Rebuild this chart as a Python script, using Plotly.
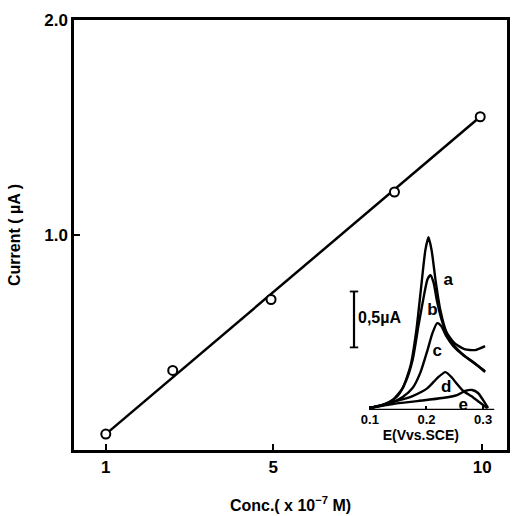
import plotly.graph_objects as go

# Main calibration data
conc = [1.0, 2.6, 4.95, 7.9, 9.95]
current = [0.074, 0.37, 0.70, 1.20, 1.55]
fit_x = [1.0, 9.95]
fit_y = [0.074, 1.55]
x_ticks = [1, 5, 10]
y_ticks = [1.0, 2.0]
y_ticktext = ["1.0", "2.0"]

# Inset voltammograms (E in V vs SCE, current in uA)
E_a = [0.100, 0.123, 0.140, 0.158, 0.172, 0.182, 0.191, 0.198, 0.2035, 0.209, 0.216, 0.2246, 0.235, 0.249, 0.267, 0.286, 0.3035]
I_a = [0.018, 0.045, 0.089, 0.196, 0.40, 0.71, 1.12, 1.43, 1.545, 1.43, 1.16, 0.89, 0.70, 0.60, 0.545, 0.536, 0.571]
E_b = [0.100, 0.1316, 0.149, 0.163, 0.1754, 0.186, 0.1965, 0.2018, 0.207, 0.2123, 0.219, 0.228, 0.2386, 0.2526, 0.272, 0.2895, 0.3035]
I_b = [0.018, 0.0625, 0.125, 0.25, 0.446, 0.76, 1.05, 1.17, 1.205, 1.143, 0.964, 0.786, 0.652, 0.554, 0.464, 0.40, 0.348]
E_c = [0.100, 0.1368, 0.158, 0.1754, 0.1895, 0.2018, 0.2105, 0.219, 0.2263, 0.235, 0.2474, 0.265, 0.2825, 0.3035]
I_c = [0.018, 0.0625, 0.116, 0.196, 0.339, 0.536, 0.6875, 0.777, 0.75, 0.66, 0.571, 0.49, 0.43, 0.34]
E_d = [0.100, 0.1404, 0.1754, 0.2018, 0.219, 0.2333, 0.2456, 0.251, 0.265, 0.279, 0.293, 0.307]
I_d = [0.018, 0.071, 0.125, 0.196, 0.286, 0.339, 0.286, 0.25, 0.17, 0.125, 0.071, 0.018]
E_e = [0.100, 0.1404, 0.184, 0.228, 0.254, 0.268, 0.2807, 0.291, 0.300, 0.3088]
I_e = [0.018, 0.054, 0.08, 0.107, 0.134, 0.17, 0.179, 0.152, 0.089, 0.018]
curve_labels = ["a", "b", "c", "d", "e"]
label_E = [0.2386, 0.2105, 0.219, 0.235, 0.265]
label_I = [1.16, 0.89, 0.52, 0.196, 0.036]
inset_ticks = [0.1, 0.2, 0.3]
inset_ticktext = ["0.1", "0.2", "0.3"]
inset_axis_E = [0.1, 0.32]
scale_E = [0.072, 0.072]
scale_I = [0.56, 1.06]

FONT = "Liberation Sans"
BOLD = dict(family=FONT, color="black", weight="bold")
fig = go.Figure()

fig.add_trace(go.Scatter(x=fit_x, y=fit_y, mode="lines",
                         line=dict(color="black", width=2.5), showlegend=False))
fig.add_trace(go.Scatter(x=conc, y=current, mode="markers",
                         marker=dict(symbol="circle", size=9, color="white",
                                     line=dict(color="black", width=2)),
                         showlegend=False))

for E, I in [(E_a, I_a), (E_b, I_b), (E_c, I_c), (E_d, I_d), (E_e, I_e)]:
    fig.add_trace(go.Scatter(x=E, y=I, mode="lines", xaxis="x2", yaxis="y2",
                             line=dict(color="black", width=2.4, shape="spline", smoothing=0.6),
                             showlegend=False, cliponaxis=False))

fig.add_trace(go.Scatter(x=label_E, y=label_I, mode="text", text=curve_labels,
                         xaxis="x2", yaxis="y2", cliponaxis=False,
                         textfont=dict(BOLD, size=17),
                         showlegend=False))

# scale bar
fig.add_trace(go.Scatter(x=scale_E, y=scale_I, mode="lines+markers", xaxis="x2", yaxis="y2",
                         line=dict(color="black", width=2.2),
                         marker=dict(symbol="line-ew", size=6, line=dict(color="black", width=1.8)),
                         cliponaxis=False, showlegend=False))

fig.add_annotation(x=0.076, y=0.83, xref="x2", yref="y2", text="0,5µA",
                   showarrow=False, xanchor="left", yanchor="middle",
                   font=dict(BOLD, size=16))

# inset baseline axis
fig.add_shape(type="line", xref="x2", yref="y2", x0=inset_axis_E[0], x1=inset_axis_E[1],
              y0=0, y1=0, line=dict(color="black", width=2.5))

fig.update_layout(
    width=514, height=516,
    margin=dict(l=74, r=4, t=20, b=66),
    paper_bgcolor="white", plot_bgcolor="white",
    font=dict(family=FONT, color="black"),
    xaxis=dict(range=[0.24, 10.59], tickvals=x_ticks, ticks="inside", ticklen=6,
               tickwidth=2, tickcolor="black", showline=True, linewidth=2.5,
               linecolor="black", mirror=True, showgrid=False, zeroline=False,
               tickfont=dict(BOLD, size=17),
               ticklabelstandoff=0,
               title=dict(text="Conc.( x 10<sup>−7</sup> M)", standoff=24,
                          font=dict(BOLD, size=16))),
    yaxis=dict(range=[0, 2.0], tickvals=y_ticks, ticktext=y_ticktext, ticks="inside",
               ticklen=6, tickwidth=2, tickcolor="black", showline=True, linewidth=2.5,
               linecolor="black", mirror=True, showgrid=False, zeroline=False,
               tickfont=dict(BOLD, size=17),
               title=dict(text="Current ( µA )", standoff=20,
                          font=dict(BOLD, size=16))),
    xaxis2=dict(domain=[0.631, 0.971], anchor="y2", range=[0.06, 0.32],
                tickvals=inset_ticks, ticktext=inset_ticktext, ticks="inside",
                ticklen=4, tickwidth=1.8, tickcolor="black", showline=False,
                showgrid=False, zeroline=False,
                tickfont=dict(BOLD, size=13),
                title=dict(text="E(Vvs.SCE)", standoff=0,
                           font=dict(BOLD, size=14))),
    yaxis2=dict(domain=[0.093, 0.509], anchor="x2", range=[0, 1.6], visible=False),
)

fig.write_html("out.html")
